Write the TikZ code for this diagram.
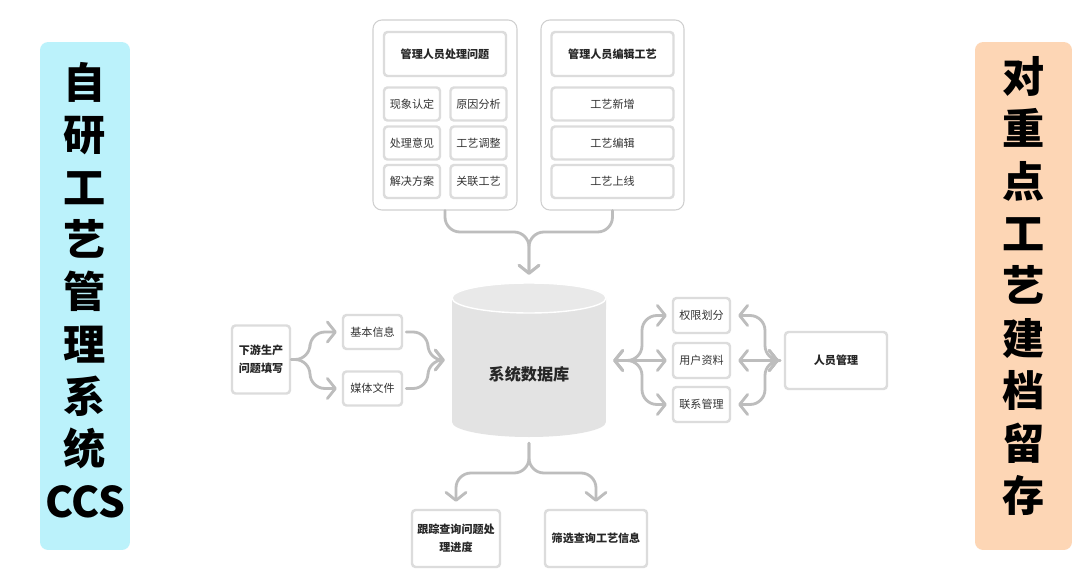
\documentclass[tikz,border=0pt]{standalone}
\usepackage{fontspec}
\newfontfamily\cjk{Noto Sans CJK SC}
\usetikzlibrary{arrows.meta}
\definecolor{cyanbg}{HTML}{BBF2FB}
\definecolor{peachbg}{HTML}{FDD6B5}
\definecolor{connc}{HTML}{BDBDBD}
\definecolor{boxline}{HTML}{DCDCDC}
\definecolor{panelline}{HTML}{D0D0D0}
\definecolor{dbbody}{HTML}{E3E3E3}
\definecolor{dbtopc}{HTML}{E9E9E9}
\definecolor{txt}{HTML}{333333}
\tikzset{
  >={Straight Barb[length=1.6mm,width=4mm,round]},
  box/.style={draw=boxline, line width=1.4pt, fill=white, rounded corners=2pt, inner sep=0pt, font=\cjk\fontsize{6.3}{10}\selectfont, text=txt, align=center},
  boldbox/.style={box, font=\cjk\bfseries\fontsize{6.3}{10}\selectfont, text=black!85},
  panel/.style={draw=panelline, line width=0.6pt, fill=white, rounded corners=5pt, inner sep=0pt},
  conn/.style={draw=connc, line width=1.6pt, line cap=round, line join=round, rounded corners=0.3cm},
  banner/.style={rounded corners=0.16cm, inner sep=0pt},
  bannertext/.style={font=\cjk\bfseries\fontsize{24}{29.8}\selectfont, align=center, inner sep=0pt},
}
\begin{document}
\begin{tikzpicture}[x=0.02cm,y=-0.02cm]
\useasboundingbox[fill=white] (0,0) rectangle (1080,572);

% banners
\node[banner, fill=cyanbg, minimum width=1.8cm, minimum height=10.16cm] (lbn) at (85,296) {};
\node[bannertext] (lbt) at (85,290) {自\\研\\工\\艺\\管\\理\\系\\统\\CCS};
\node[banner, fill=peachbg, minimum width=1.94cm, minimum height=10.16cm] (rbn) at (1023.5,296) {};
\node[bannertext] (rbt) at (1023.5,286) {对\\重\\点\\工\\艺\\建\\档\\留\\存};

% top panels
\node[panel, minimum width=2.88cm, minimum height=3.8cm] (tl) at (445,115) {};
\node[panel, minimum width=2.86cm, minimum height=3.8cm] (tr) at (612.5,115) {};
\node[boldbox, minimum width=2.44cm, minimum height=0.88cm] (tlh) at (445,54) {管理人员处理问题};
\node[box, minimum width=1.12cm, minimum height=0.66cm] (a1) at (412,104) {现象认定};
\node[box, minimum width=1.12cm, minimum height=0.66cm] (a2) at (478.5,104) {原因分析};
\node[box, minimum width=1.12cm, minimum height=0.66cm] (a3) at (412,143) {处理意见};
\node[box, minimum width=1.12cm, minimum height=0.66cm] (a4) at (478.5,143) {工艺调整};
\node[box, minimum width=1.12cm, minimum height=0.66cm] (a5) at (412,181.5) {解决方案};
\node[box, minimum width=1.12cm, minimum height=0.66cm] (a6) at (478.5,181.5) {关联工艺};
\node[boldbox, minimum width=2.44cm, minimum height=0.88cm] (trh) at (612.5,54) {管理人员编辑工艺};
\node[box, minimum width=2.44cm, minimum height=0.66cm] (c1) at (612.5,104) {工艺新增};
\node[box, minimum width=2.44cm, minimum height=0.66cm] (c2) at (612.5,143) {工艺编辑};
\node[box, minimum width=2.44cm, minimum height=0.66cm] (c3) at (612.5,181.5) {工艺上线};

% database cylinder
\fill[dbbody] (452,298) -- (452,422) arc[start angle=180,end angle=360,x radius=1.54cm,y radius=0.3cm] -- (606,298) -- cycle;
\filldraw[fill=dbtopc, draw=white, line width=0.8pt] (529,298) ellipse[x radius=1.54cm, y radius=0.3cm];
\node[minimum width=3.08cm, minimum height=3.08cm, inner sep=0pt] (db) at (529,360) {};
\node[font=\cjk\bfseries\fontsize{9.2}{11}\selectfont, text=black!85, inner sep=0pt] (dbl) at (529,374) {系统数据库};

% left side
\node[boldbox, minimum width=1.16cm, minimum height=1.36cm] (lb) at (261,359.5) {下游生产\\问题填写};
\node[box, minimum width=1.18cm, minimum height=0.68cm] (b1) at (372.5,332) {基本信息};
\node[box, minimum width=1.18cm, minimum height=0.68cm] (b2) at (372.5,388.5) {媒体文件};

% right side
\node[box, minimum width=1.14cm, minimum height=0.7cm] (r1) at (701.5,315.5) {权限划分};
\node[box, minimum width=1.14cm, minimum height=0.7cm] (r2) at (701.5,360.5) {用户资料};
\node[box, minimum width=1.14cm, minimum height=0.7cm] (r3) at (701.5,404.5) {联系管理};
\node[boldbox, minimum width=2.04cm, minimum height=1.14cm] (pm) at (836,360.5) {人员管理};

% bottom
\node[boldbox, minimum width=1.76cm, minimum height=1.14cm] (q1) at (456,538.5) {跟踪查询问题处\\理进度};
\node[boldbox, minimum width=2.04cm, minimum height=1.14cm] (q2) at (596,538.5) {筛选查询工艺信息};

% connectors
\coordinate (jt) at (529,232);
\draw[conn,->,shorten >=0.16cm] (tl.south) |- (jt) -- (db.north);
\draw[conn,->,shorten >=0.16cm] (tr.south) |- (jt) -- (db.north);

\coordinate (fl) at (310,359.5);
\draw[conn,->,shorten >=0.1cm] (lb.east) -- (fl) |- (b1.west);
\draw[conn,->,shorten >=0.1cm] (lb.east) -- (fl) |- (b2.west);
\coordinate (ml) at (428,360);
\draw[conn,->,shorten <=0.06cm,shorten >=0.14cm] (b1.east) -| (ml) -- (db.west);
\draw[conn,->,shorten <=0.06cm,shorten >=0.14cm] (b2.east) -| (ml) -- (db.west);

\coordinate (fr) at (642,360.5);
\draw[conn,<->,shorten <=0.14cm,shorten >=0.1cm] (db.east |- fr) -- (fr) |- (r1.west);
\draw[conn,<->,shorten <=0.14cm,shorten >=0.1cm] (db.east |- fr) -- (r2.west);
\draw[conn,<->,shorten <=0.14cm,shorten >=0.1cm] (db.east |- fr) -- (fr) |- (r3.west);
\coordinate (mr) at (765,360.5);
\draw[conn,<->,shorten <=0.14cm,shorten >=0.1cm] (r1.east) -| (mr) -- (pm.west);
\draw[conn,<->,shorten <=0.14cm,shorten >=0.1cm] (r2.east) -- (pm.west);
\draw[conn,<->,shorten <=0.14cm,shorten >=0.1cm] (r3.east) -| (mr) -- (pm.west);

\coordinate (jb) at (529,473);
\draw[conn,->,shorten <=0.12cm,shorten >=0.14cm] (db.south) -- (jb) -| (q1.north);
\draw[conn,->,shorten <=0.12cm,shorten >=0.14cm] (db.south) -- (jb) -| (q2.north);
\end{tikzpicture}
\end{document}
